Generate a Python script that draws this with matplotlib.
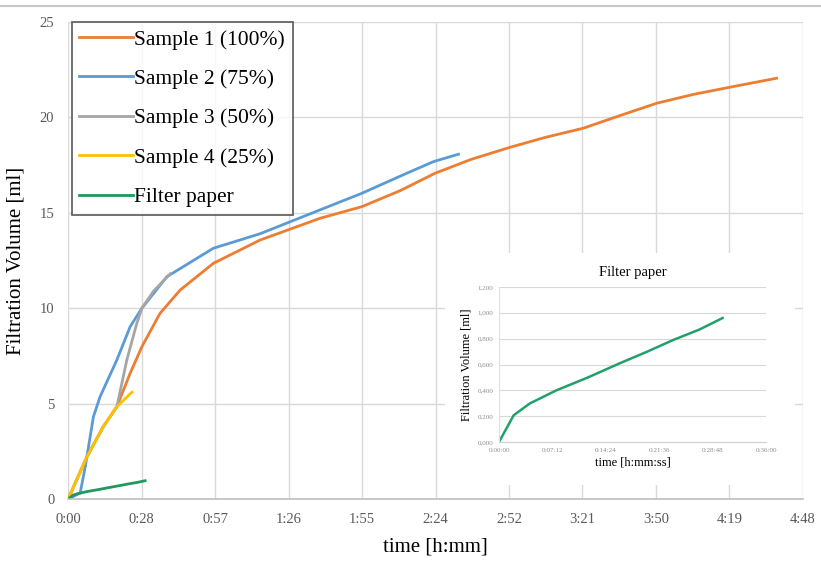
import numpy as np
import matplotlib.pyplot as plt
from matplotlib.patches import Rectangle

plt.rcParams['font.family'] = ['Liberation Serif', 'DejaVu Serif']

# time in minutes, volume in ml
t_s1 = [0, 7.3, 13.8, 19.1, 24.3, 28.9, 36.0, 43.9, 56.9, 75.2, 98.7, 115.1, 130, 143.8, 158, 173.2, 187, 201.9, 216, 230.7, 245, 259.4, 277.7]
v_s1 = [0, 2.2, 3.8, 4.84, 6.59, 7.98, 9.73, 10.95, 12.35, 13.57, 14.71, 15.32, 16.15, 17.07, 17.8, 18.43, 18.95, 19.43, 20.08, 20.74, 21.2, 21.58, 22.05]

t_s2 = [0, 3, 4.7, 6.7, 9.9, 12.5, 19.1, 24.3, 28.9, 38.7, 56.9, 75.2, 98.7, 115.1, 132.7, 143.2, 153]
v_s2 = [0, 0.2, 0.31, 1.69, 4.31, 5.36, 7.29, 9.03, 10.0, 11.65, 13.14, 13.9, 15.15, 16.02, 17.07, 17.68, 18.07]

t_s3 = [0, 7.3, 13.8, 19.1, 23.0, 26.9, 28.9, 33.5, 40]
v_s3 = [0, 2.2, 3.8, 4.84, 7.29, 9.2, 10.0, 10.9, 11.8]

t_s4 = [0, 7.3, 13.8, 19.1, 25]
v_s4 = [0, 2.2, 3.8, 4.84, 5.6]

t_fp = [0, 1.98, 4.14, 7.74, 12, 16.3, 20, 23.5, 27, 30.15]
v_fp = [0, 0.207, 0.298, 0.40, 0.50, 0.61, 0.70, 0.79, 0.87, 0.96]

x_ticks = [0, 28.8, 57.6, 86.4, 115.2, 144, 172.8, 201.6, 230.4, 259.2, 288]
x_labels = ['0:00', '0:28', '0:57', '1:26', '1:55', '2:24', '2:52', '3:21', '3:50', '4:19', '4:48']
y_ticks = [0, 5, 10, 15, 20, 25]

inset_x_ticks = [0, 7.2, 14.4, 21.6, 28.8, 36]
inset_x_labels = ['0:00:00', '0:07:12', '0:14:24', '0:21:36', '0:28:48', '0:36:00']
inset_y_ticks = [0, 0.2, 0.4, 0.6, 0.8, 1.0, 1.2]
inset_y_labels = ['0,000', '0,200', '0,400', '0,600', '0,800', '1,000', '1,200']

c_orange = '#ED7D31'
c_blue = '#5B9BD5'
c_grey = '#A5A5A5'
c_yellow = '#FFC000'
c_green = '#1E9A5C'
grid_c = '#D9D9D9'
tick_c = '#595959'

fig = plt.figure(figsize=(8.21, 5.62), dpi=100)
ax = fig.add_axes([0.083, 0.112, 0.895, 0.849])

lw = 2.0
ax.plot(t_s1, v_s1, color=c_orange, lw=lw, label='Sample 1 (100%)')
ax.plot(t_s2, v_s2, color=c_blue, lw=lw, label='Sample 2 (75%)')
ax.plot(t_s3, v_s3, color=c_grey, lw=lw, label='Sample 3 (50%)')
ax.plot(t_s4, v_s4, color=c_yellow, lw=lw, label='Sample 4 (25%)')
ax.plot(t_fp, v_fp, color=c_green, lw=lw, label='Filter paper')

ax.set_xlim(0, 288)
ax.set_ylim(0, 25)
ax.set_xticks(x_ticks)
ax.set_xticklabels(x_labels)
ax.set_yticks(y_ticks)
ax.grid(True, color=grid_c, lw=1)
ax.set_axisbelow(True)
for s in ['top', 'right', 'left']:
    ax.spines[s].set_visible(False)
ax.spines['bottom'].set_color('#BFBFBF')
ax.spines['bottom'].set_linewidth(1.2)
ax.tick_params(length=0, colors=tick_c, labelsize=10.5, pad=10)
ax.set_xlabel('time [h:mm]', fontsize=15, labelpad=8)
ax.set_ylabel('Filtration Volume [ml]', fontsize=15, labelpad=10)

leg = ax.legend(loc='upper left', bbox_to_anchor=(0.005, 1.0), fontsize=15.5,
                frameon=True, fancybox=False, edgecolor='#404040',
                handlelength=2.5, handletextpad=0.05, labelspacing=0.9,
                borderpad=0.35, borderaxespad=0)
leg.get_frame().set_linewidth(1.3)

# white panel behind the inset chart
ax.add_patch(Rectangle((445 / 821, 1 - 485 / 562), 350 / 821, 232 / 562,
                       transform=fig.transFigure, facecolor='white',
                       edgecolor='none', zorder=10, clip_on=False))

ins = fig.add_axes([499 / 821, 1 - 442 / 562, 267 / 821, 155 / 562])
ins.set_facecolor('none')
ins.plot(t_fp, v_fp, color='#22A06B', lw=1.8)
ins.set_xlim(0, 36)
ins.set_ylim(0, 1.2)
ins.set_xticks(inset_x_ticks)
ins.set_xticklabels(inset_x_labels)
ins.set_yticks(inset_y_ticks)
ins.set_yticklabels(inset_y_labels)
ins.grid(True, axis='y', color=grid_c, lw=0.8)
for s in ['top', 'right']:
    ins.spines[s].set_visible(False)
ins.spines['left'].set_color('#E0E0E0')
ins.spines['bottom'].set_color('#D0D0D0')
ins.tick_params(length=0, colors='#8C8C8C', labelsize=5, pad=4)
ins.set_title('Filter paper', fontsize=10.5, pad=8)
ins.set_xlabel('time [h:mm:ss]', fontsize=9, labelpad=3)
ins.set_ylabel('Filtration Volume [ml]', fontsize=9, labelpad=4)

# thin rule along the top of the figure
fig.add_artist(plt.Line2D([0, 1], [1 - 6 / 562, 1 - 6 / 562],
                          transform=fig.transFigure, color='#C8C8C8', lw=1.5))

fig.savefig('out.png', dpi=100)
